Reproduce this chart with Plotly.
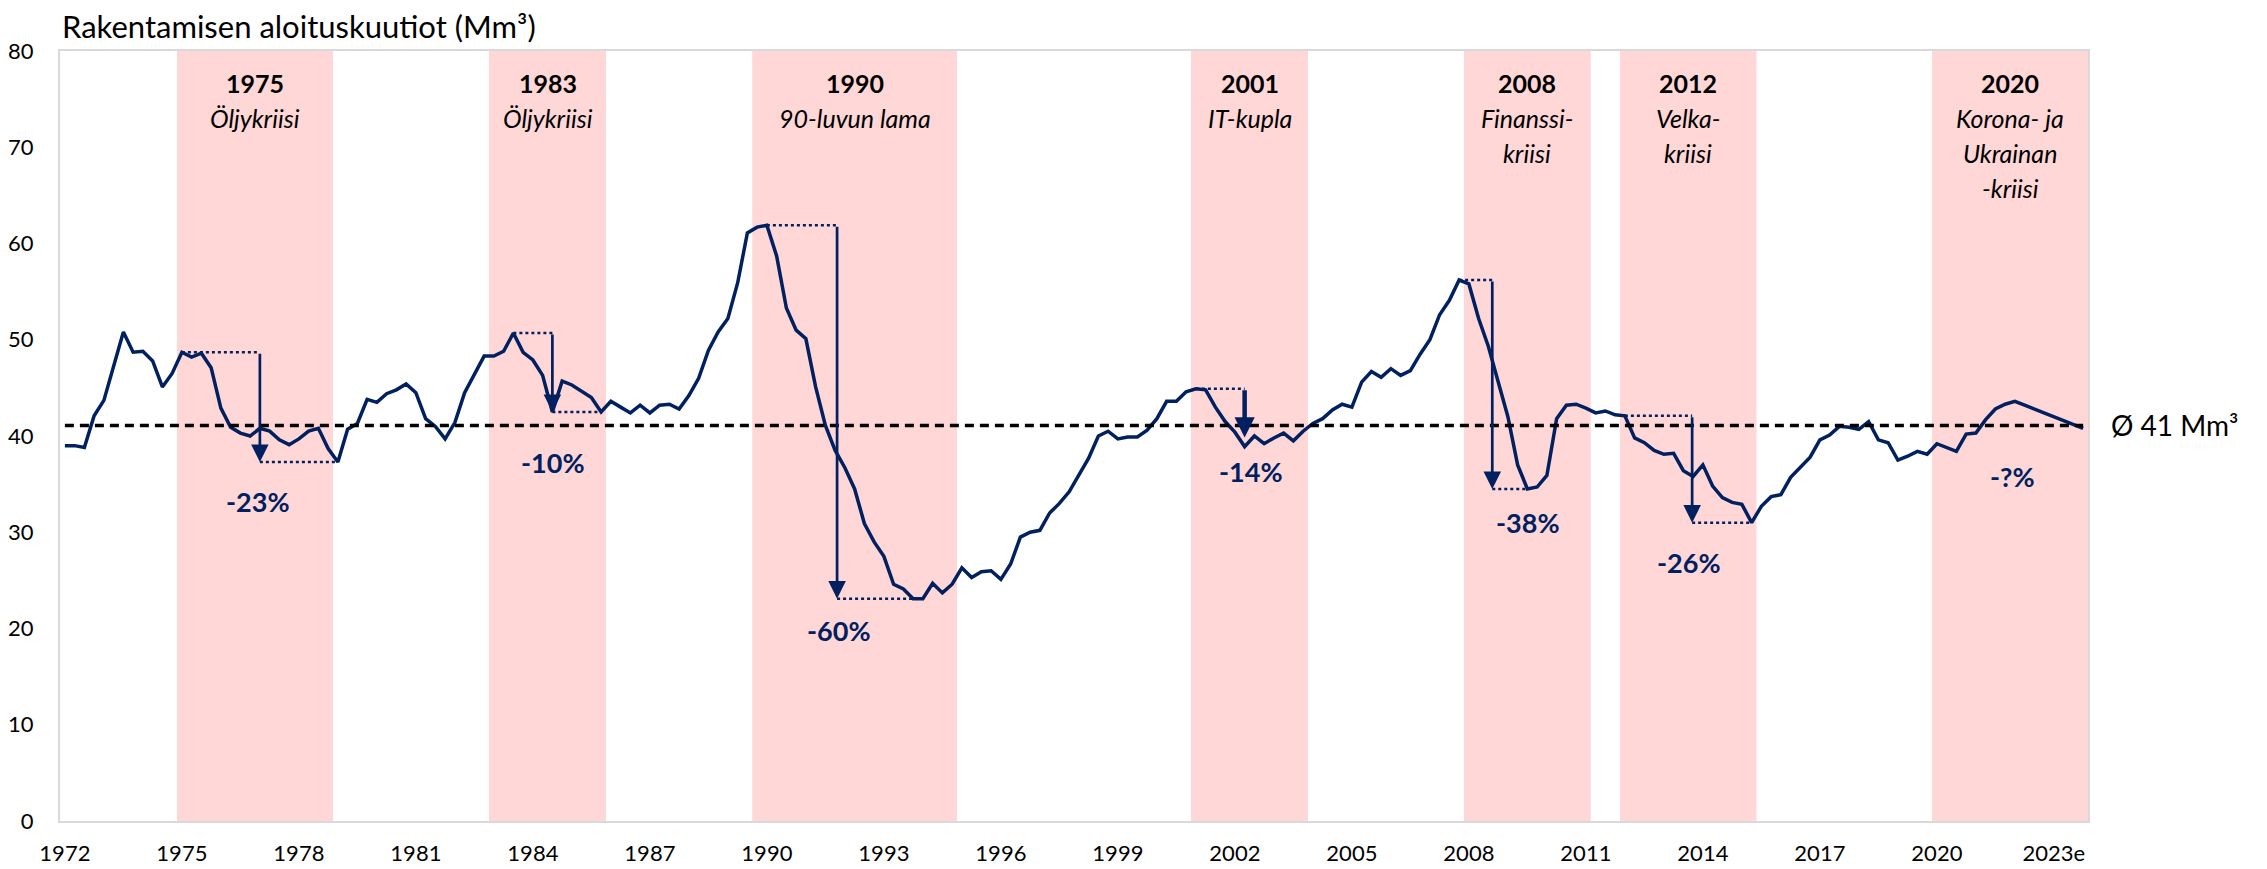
import plotly.graph_objects as go

# ---------------- data ----------------
start_year = 1972
# quarterly values (Mm3), 1972Q1 ... 2023Q4 (2023 estimate)
values = [
    39.0, 39.0, 38.8, 42.1, 43.7, 47.3, 50.8, 48.7, 48.8, 47.8,   # 1972Q1-1974Q2
    45.1, 46.5, 48.7, 48.2, 48.6, 47.1, 42.9, 40.9, 40.3, 40.0,   # -1976Q4
    40.8, 40.5, 39.6, 39.1, 39.7, 40.5, 40.8, 38.7, 37.3, 40.7,   # -1979Q2
    41.3, 43.8, 43.5, 44.4, 44.8, 45.4, 44.5, 41.8, 41.0, 39.7,   # -1981Q4
    41.4, 44.5, 46.4, 48.3, 48.3, 48.8, 50.7, 48.7, 47.9, 46.3,   # -1984Q2
    42.5, 45.7, 45.3, 44.6, 44.0, 42.5, 43.6, 43.0, 42.4, 43.2,   # -1986Q4
    42.4, 43.2, 43.3, 42.8, 44.2, 46.0, 48.9, 50.8, 52.2, 55.9,   # -1989Q2
    61.1, 61.7, 61.9, 58.7, 53.3, 51.0, 50.1, 45.1, 41.1, 38.5,   # -1991Q4
    36.7, 34.5, 30.9, 29.0, 27.5, 24.6, 24.1, 23.1, 23.1, 24.7,   # -1994Q2
    23.7, 24.6, 26.3, 25.3, 25.9, 26.0, 25.1, 26.7, 29.5, 30.0,   # -1996Q4
    30.2, 32.0, 33.0, 34.2, 36.0, 37.7, 40.0, 40.5, 39.7, 39.9,   # -1999Q2
    39.9, 40.6, 41.8, 43.6, 43.6, 44.6, 44.9, 44.8, 43.0, 41.5,   # -2001Q4
    40.4, 38.9, 40.0, 39.2, 39.8, 40.3, 39.5, 40.5, 41.3, 41.8,   # -2004Q2
    42.7, 43.3, 43.0, 45.6, 46.7, 46.1, 47.0, 46.3, 46.8, 48.5,   # -2006Q4
    50.0, 52.6, 54.1, 56.2, 55.8, 52.2, 49.3, 45.8, 42.0, 37.0,   # -2009Q2
    34.5, 34.7, 35.9, 41.8, 43.2, 43.3, 42.9, 42.4, 42.6, 42.2,   # -2011Q4
    42.1, 39.8, 39.3, 38.5, 38.1, 38.2, 36.4, 35.8, 37.0, 34.8,   # -2014Q2
    33.6, 33.1, 32.9, 31.0, 32.7, 33.7, 33.9, 35.7, 36.7, 37.8,   # -2016Q4
    39.6, 40.1, 41.0, 40.9, 40.7, 41.5, 39.6, 39.3, 37.5, 37.9,   # -2019Q2
    38.4, 38.1, 39.2, 38.8, 38.4, 40.2, 40.3, 41.7, 42.8, 43.3,   # -2021Q4
    43.6, 43.2, 42.8, 42.4, 42.0, 41.6, 41.2, 40.8,               # -2023Q4
]
average = 41.1
average_label = "Ø 41 Mm³"

tick_years = [1972, 1975, 1978, 1981, 1984, 1987, 1990, 1993, 1996, 1999,
              2002, 2005, 2008, 2011, 2014, 2017, 2020, 2023]
tick_text = [str(y) for y in tick_years[:-1]] + ["2023e"]

crisis_years = ["1975", "1983", "1990", "2001", "2008", "2012", "2020"]
crisis_names = [["Öljykriisi"], ["Öljykriisi"], ["90-luvun lama"], ["IT-kupla"],
                ["Finanssi-", "kriisi"], ["Velka-", "kriisi"],
                ["Korona- ja", "Ukrainan", "-kriisi"]]
crisis_start = ["1975Q1", "1983Q1", "1989Q4", "2001Q1", "2008Q1", "2012Q1", "2020Q1"]
crisis_end = ["1978Q4", "1985Q4", "1994Q4", "2003Q4", "2011Q1", "2015Q2", "2023Q4"]

drop_peak = ["1975Q1", "1983Q3", "1990Q1", "2001Q1", "2007Q4", "2012Q1"]
drop_trough = ["1979Q1", "1985Q4", "1993Q4", "2002Q2", "2009Q3", "2015Q2"]
drop_text = ["-23%", "-10%", "-60%", "-14%", "-38%", "-26%", "-?%"]

# ---------------- helpers / styling ----------------
def qidx(q):
    return (int(q[:4]) - start_year) * 4 + int(q[5]) - 1

NAVY = "#002060"
PINK = "#ffd7d7"
FONT = "Lato"

x = list(range(len(values)))
tickvals = [(y - start_year) * 4 for y in tick_years]

# arrow x-positions (quarter index) and label anchor positions (index, value)
arrow_x = [20, 50, 79.2, 121, 146.4, 166.9]
label_pos = [(19.8, 33.2), (50.1, 37.2), (79.4, 19.8), (121.7, 36.3),
             (150.1, 31.0), (166.6, 26.9), (199.8, 35.8)]

fig = go.Figure()

shapes = []
for s, e in zip(crisis_start, crisis_end):
    shapes.append(dict(type="rect", xref="x", yref="y", x0=qidx(s) - 0.5, x1=qidx(e) + 0.5,
                       y0=0, y1=80, fillcolor=PINK, line=dict(width=0), layer="below"))

fig.add_trace(go.Scatter(x=x, y=values, mode="lines",
                         line=dict(color=NAVY, width=3.5), hoverinfo="skip"))
fig.add_trace(go.Scatter(x=[x[0], x[-1]], y=[average, average], mode="lines",
                         line=dict(color="black", width=3.5, dash="9px,6px"), hoverinfo="skip"))

# dotted guide lines
dx, dy = [], []
for i, (p, t) in enumerate(zip(drop_peak, drop_trough)):
    pi, ti = qidx(p), qidx(t)
    pv, tv = values[pi], values[ti]
    dx += [pi, arrow_x[i], None]
    dy += [pv, pv, None]
    if i != 3:
        dx += [arrow_x[i], ti, None]
        dy += [tv, tv, None]
fig.add_trace(go.Scatter(x=dx, y=dy, mode="lines",
                         line=dict(color=NAVY, width=2.5, dash="dot"), hoverinfo="skip"))

annotations = []
for i, (p, t) in enumerate(zip(drop_peak, drop_trough)):
    pv, tv = values[qidx(p)], values[qidx(t)]
    thick = (i == 3)
    annotations.append(dict(
        x=arrow_x[i], y=tv, ax=arrow_x[i], ay=pv, xref="x", yref="y", axref="x", ayref="y",
        text="", showarrow=True, arrowhead=2,
        arrowsize=0.9 if thick else 1.3, arrowwidth=4.5 if thick else 2.7,
        arrowcolor=NAVY, standoff=9 if thick else 0))

for (lx, ly), txt in zip(label_pos, drop_text):
    annotations.append(dict(x=lx, y=ly, xref="x", yref="y", text="<b>%s</b>" % txt,
                            showarrow=False, xanchor="center", yanchor="middle",
                            font=dict(family=FONT, size=27, color=NAVY)))

# crisis headings
line_y = [76.7, 73.05, 69.4, 65.75]
for yr, names, s, e in zip(crisis_years, crisis_names, crisis_start, crisis_end):
    cx = (qidx(s) + qidx(e)) / 2
    annotations.append(dict(x=cx, y=line_y[0], xref="x", yref="y", text="<b>%s</b>" % yr,
                            showarrow=False, xanchor="center", yanchor="middle",
                            font=dict(family=FONT, size=25, color="black")))
    for k, nm in enumerate(names):
        annotations.append(dict(x=cx, y=line_y[k + 1], xref="x", yref="y", text="<i>%s</i>" % nm,
                                showarrow=False, xanchor="center", yanchor="middle",
                                font=dict(family=FONT, size=25, color="black")))

# title and average label
annotations.append(dict(x=0.0, y=1.033, xref="paper", yref="paper",
                        text="Rakentamisen aloituskuutiot (Mm³)", showarrow=False,
                        xanchor="left", yanchor="middle",
                        font=dict(family=FONT, size=31, color="black")))
annotations.append(dict(x=1.0105, y=average, xref="paper", yref="y", text=average_label,
                        showarrow=False, xanchor="left", yanchor="middle",
                        font=dict(family=FONT, size=28, color="black")))

# the page body adds an 8px offset, so the figure is 8px smaller than the window
fig.update_layout(
    width=2259, height=861,
    margin=dict(l=52, r=179, t=43, b=48, autoexpand=False),
    plot_bgcolor="white", paper_bgcolor="white",
    showlegend=False,
    shapes=shapes, annotations=annotations,
    font=dict(family=FONT, color="black"),
    xaxis=dict(range=[-0.5, len(values) - 0.5], tickvals=tickvals, ticktext=tick_text,
               showgrid=False, zeroline=False, showline=True, mirror=True, automargin=False,
               linecolor="#d9d9d9", linewidth=2, ticks="", ticklabelstandoff=12,
               tickfont=dict(family=FONT, size=22, color="black")),
    yaxis=dict(range=[0, 80], tickvals=list(range(0, 81, 10)),
               showgrid=False, zeroline=False, showline=True, mirror=True, automargin=False,
               linecolor="#d9d9d9", linewidth=2, ticks="", ticklabelstandoff=20,
               tickfont=dict(family=FONT, size=22, color="black")),
)

fig.write_html("out.html")
